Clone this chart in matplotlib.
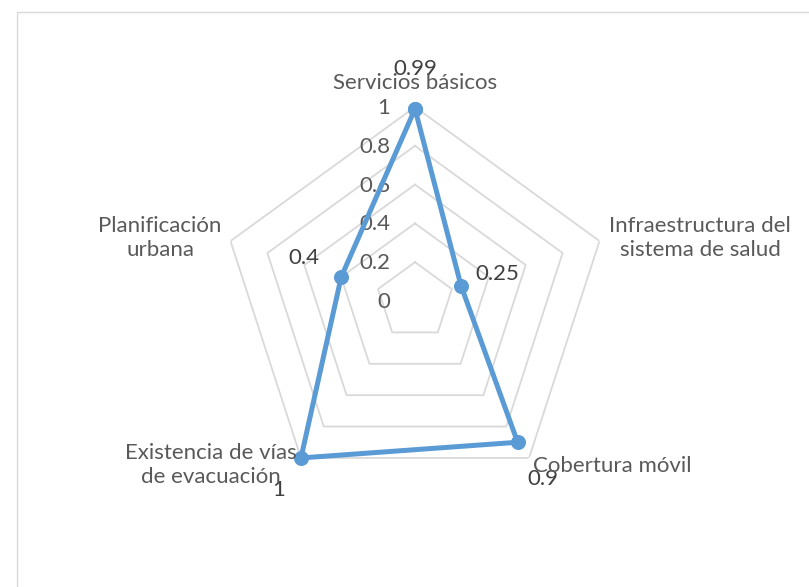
import numpy as np
import matplotlib.pyplot as plt
from matplotlib.patches import Rectangle

# ----------------------------------
# Data
# ----------------------------------
categorias = [
    "Servicios básicos",
    "Infraestructura del\nsistema de salud",
    "Cobertura móvil",
    "Existencia de vías\nde evacuación",
    "Planificación\nurbana",
]
valores = [0.99, 0.25, 0.9, 1.0, 0.4]
etiquetas = ["0.99", "0.25", "0.9", "1", "0.4"]
anillos = [0.2, 0.4, 0.6, 0.8, 1.0]
anillo_labels = ["0", "0.2", "0.4", "0.6", "0.8", "1"]

W, H = 809, 587
azul = "#5B9BD5"
gris_txt = "#595959"
gris_grid = "#D9D9D9"
plt.rcParams["font.family"] = ["Lato", "DejaVu Sans"]
fs = 16

fig = plt.figure(figsize=(W / 100, H / 100), dpi=100)

# chart area border (cropped on right/bottom)
fig.patches.append(Rectangle((17 / W, -0.1), 1.2, 1 - 12 / H + 0.1,
                             transform=fig.transFigure, fill=False,
                             edgecolor=gris_grid, linewidth=1))

cx, cy, R = 415, 301, 194
ax = fig.add_axes([(cx - R) / W, 1 - (cy + R) / H, 2 * R / W, 2 * R / H],
                  projection="polar")
ax.set_theta_offset(np.pi / 2)
ax.set_theta_direction(-1)
ax.set_ylim(0, 1)
ax.grid(False)
ax.spines["polar"].set_visible(False)
ax.set_xticks([])
ax.set_yticks([])
ax.patch.set_alpha(0)

n = len(categorias)
ang = np.arange(n) * 2 * np.pi / n
ang_c = np.append(ang, ang[0])

for r in anillos:
    ax.plot(ang_c, [r] * (n + 1), color=gris_grid, linewidth=1.3, zorder=1)

# radial tick labels along the top spoke
for i, lab in enumerate(anillo_labels):
    ax.annotate(lab, (0, i * 0.2), xytext=(-25, -1), textcoords="offset pixels",
                ha="right", va="center", fontsize=fs, color=gris_txt)

vals_c = valores + [valores[0]]
ax.plot(ang_c, vals_c, color=azul, linewidth=3.6, marker="o",
        markersize=9.8, zorder=3, clip_on=False)

# data labels
offs = [(0, 40), (36, 12), (25, -37), (-22, -32), (-37, 19)]
for a, v, t, o in zip(ang, valores, etiquetas, offs):
    ax.annotate(t, (a, v), xytext=o, textcoords="offset pixels",
                ha="center", va="center", fontsize=fs, color="#404040")

# category labels (figure pixel positions)
pos_cat = [(415, 83), (700, 238), (612, 466), (211, 465), (160, 238)]
for c, (x, y) in zip(categorias, pos_cat):
    fig.text(x / W, 1 - y / H, c, ha="center", va="center", fontsize=fs,
             color=gris_txt, linespacing=1.25)

fig.savefig("out.png", dpi=100)
